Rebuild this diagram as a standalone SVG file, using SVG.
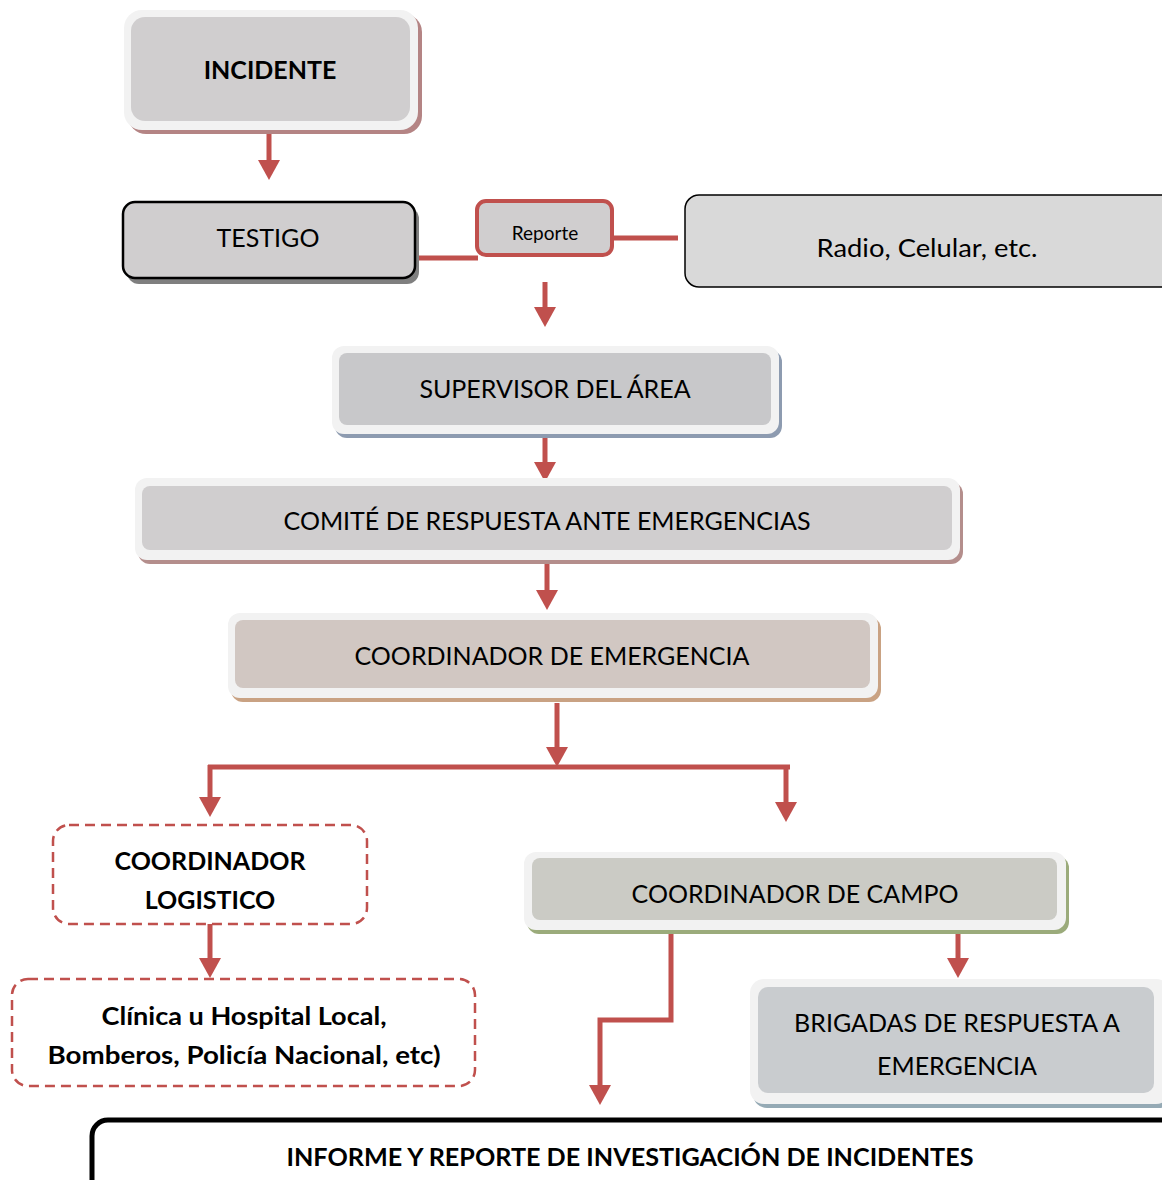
<svg xmlns="http://www.w3.org/2000/svg" width="1162" height="1180" viewBox="0 0 1162 1180">
<defs>
<style>
.t{font-family:Lato,"Open Sans","Liberation Sans",sans-serif;font-size:25px;fill:#000;text-anchor:middle;dominant-baseline:central}
.b{font-weight:bold}
.frame{fill:#f2f2f2}
.in{fill:#d0cecf}
.ln{fill:none;stroke:#c0504d;stroke-width:5}
.dash{fill:#fff;stroke:#c0504d;stroke-width:2.5;stroke-dasharray:10 6}
</style>
<marker id="ad" markerUnits="userSpaceOnUse" markerWidth="20" markerHeight="22" refX="2" refY="11" orient="auto" viewBox="0 0 20 22">
<path d="M0,0 L20,11 L0,22 Z" fill="#c0504d"/>
</marker>
</defs>

<g id="connectors">
<path class="ln" d="M269,121 V162" marker-end="url(#ad)"/>
<path class="ln" d="M415,258 H478"/>
<path class="ln" d="M612,238 H678"/>
<path class="ln" d="M545,282 V309" marker-end="url(#ad)"/>
<path class="ln" d="M545,434 V464" marker-end="url(#ad)"/>
<path class="ln" d="M547,556 V592" marker-end="url(#ad)"/>
<path class="ln" d="M557,703 V749" marker-end="url(#ad)"/>
<path class="ln" d="M208,767 H790"/>
<path class="ln" d="M210,765 V799" marker-end="url(#ad)"/>
<path class="ln" d="M786,765 V804" marker-end="url(#ad)"/>
<path class="ln" d="M210,924 V960" marker-end="url(#ad)"/>
<path class="ln" d="M958,934 V960" marker-end="url(#ad)"/>
<path class="ln" d="M671,932 V1020 H600 V1087" marker-end="url(#ad)"/>
</g>

<g id="incidente">
<rect x="128" y="14" width="294" height="120" rx="18" fill="#b48484"/>
<rect x="124" y="10" width="294" height="120" rx="18" class="frame"/>
<rect x="131" y="17" width="279" height="104" rx="14" class="in"/>
<text class="t b" x="270" y="69">INCIDENTE</text>
</g>

<g id="testigo">
<rect x="127" y="207" width="292" height="77" rx="12" fill="#7f7f7f"/>
<rect x="123" y="202" width="292" height="76" rx="12" fill="#d0cecf" stroke="#000" stroke-width="2.5"/>
<text class="t" x="268" y="237">TESTIGO</text>
</g>

<g id="reporte">
<rect x="477" y="201" width="135" height="54" rx="9" fill="#d0cecf" stroke="#c0504d" stroke-width="4"/>
<text class="t" x="545" y="232" style="font-size:19px">Reporte</text>
</g>

<g id="radio">
<rect x="685" y="195" width="490" height="92" rx="14" fill="#d9d9d9" stroke="#000" stroke-width="1.5"/>
<text class="t" x="927" y="247" textLength="221" lengthAdjust="spacingAndGlyphs">Radio, Celular, etc.</text>
</g>

<g id="supervisor">
<rect x="335" y="350" width="447" height="88" rx="12" fill="#8d9bb0"/>
<rect x="332" y="346" width="447" height="88" rx="12" class="frame"/>
<rect x="339" y="353" width="432" height="72" rx="8" fill="#c8c8ca"/>
<text class="t" x="555" y="388">SUPERVISOR DEL ÁREA</text>
</g>

<g id="comite">
<rect x="138" y="482" width="825" height="82" rx="12" fill="#b48e8c"/>
<rect x="135" y="478" width="825" height="82" rx="12" class="frame"/>
<rect x="142" y="486" width="810" height="64" rx="8" class="in"/>
<text class="t" x="547" y="520">COMITÉ DE RESPUESTA ANTE EMERGENCIAS</text>
</g>

<g id="coord-emergencia">
<rect x="231" y="617" width="650" height="85" rx="12" fill="#c9a283"/>
<rect x="228" y="613" width="650" height="85" rx="12" class="frame"/>
<rect x="235" y="620" width="635" height="68" rx="8" fill="#d1c7c2"/>
<text class="t" x="552" y="655">COORDINADOR DE EMERGENCIA</text>
</g>

<g id="coord-logistico">
<rect x="53" y="825" width="314" height="99" rx="16" class="dash"/>
<text class="t b" x="210" y="860">COORDINADOR</text>
<text class="t b" x="210" y="899">LOGISTICO</text>
</g>

<g id="clinica">
<rect x="12" y="979" width="463" height="107" rx="16" class="dash"/>
<text class="t b" x="244" y="1015" textLength="285" lengthAdjust="spacingAndGlyphs">Clínica u Hospital Local,</text>
<text class="t b" x="244" y="1054" textLength="393" lengthAdjust="spacingAndGlyphs">Bomberos, Policía Nacional, etc)</text>
</g>

<g id="coord-campo">
<rect x="527" y="856" width="542" height="78" rx="12" fill="#9bab7b"/>
<rect x="524" y="852" width="542" height="78" rx="12" class="frame"/>
<rect x="532" y="858" width="525" height="62" rx="8" fill="#cbcbc5"/>
<text class="t" x="795" y="893">COORDINADOR DE CAMPO</text>
</g>

<g id="brigadas">
<rect x="753" y="983" width="420" height="125" rx="14" fill="#95aab5"/>
<rect x="750" y="979" width="420" height="125" rx="14" class="frame"/>
<rect x="758" y="987" width="396" height="106" rx="10" fill="#c9cccf"/>
<text class="t" x="957" y="1022">BRIGADAS DE RESPUESTA A</text>
<text class="t" x="957" y="1065">EMERGENCIA</text>
</g>

<g id="informe">
<rect x="92" y="1120" width="1090" height="90" rx="16" fill="#fff" stroke="#000" stroke-width="5"/>
<text class="t b" x="630" y="1156" textLength="687" lengthAdjust="spacingAndGlyphs">INFORME Y REPORTE DE INVESTIGACIÓN DE INCIDENTES</text>
</g>
</svg>
